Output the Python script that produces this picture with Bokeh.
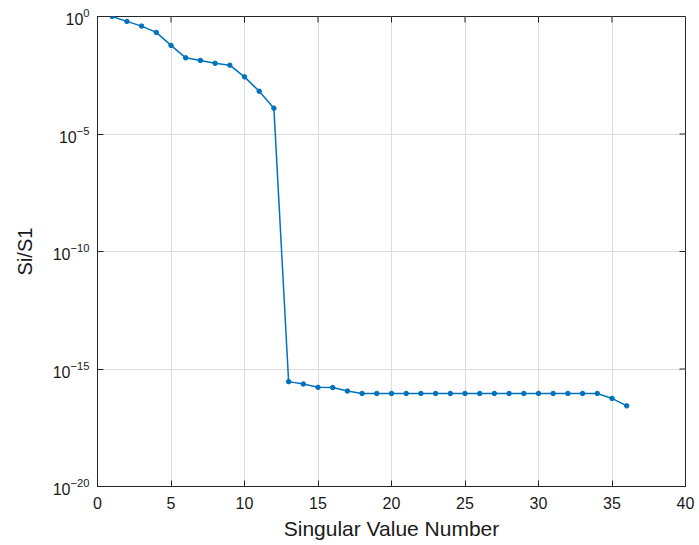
import math
from bokeh.plotting import figure
from bokeh.models import Range1d, FixedTicker, ColumnDataSource
from bokeh.embed import file_html
from bokeh.resources import INLINE

# Singular value index and normalized singular values Si/S1
index = list(range(1, 37))
ratio = [
    1.0, 0.62, 0.39, 0.21, 0.059, 0.0174, 0.0135, 0.0102, 0.0085, 0.0027,
    6.6e-4, 1.26e-4,
    2.9e-16, 2.3e-16, 1.66e-16, 1.62e-16, 1.15e-16,
    9.1e-17, 9.1e-17, 9.1e-17, 9.1e-17, 9.1e-17, 9.1e-17, 9.1e-17, 9.1e-17,
    9.1e-17, 9.1e-17, 9.1e-17, 9.1e-17, 9.1e-17, 9.1e-17, 9.1e-17, 9.1e-17,
    9.1e-17, 5.6e-17, 2.7e-17,
]
x_ticks = [0, 5, 10, 15, 20, 25, 30, 35, 40]
y_ticks = [1e-20, 1e-15, 1e-10, 1e-5, 1e0]

FONT = "Liberation Sans"
AX = "#262626"
X_MIN, X_MAX = 0, 40
Y_MIN, Y_MAX = 1e-20, 1e0

p = figure(width=699, height=545, y_axis_type="log",
           x_range=Range1d(X_MIN, X_MAX), y_range=Range1d(Y_MIN, Y_MAX),
           output_backend="svg", toolbar_location=None,
           min_border_left=97, min_border_right=14, min_border_top=16, min_border_bottom=59,
           x_axis_label="Singular Value Number", y_axis_label="Si/S1")
p.background_fill_color = "white"
p.border_fill_color = "white"
p.outline_line_color = AX
p.outline_line_width = 1

p.xgrid.ticker = FixedTicker(ticks=x_ticks)
p.ygrid.ticker = FixedTicker(ticks=y_ticks)
p.grid.grid_line_color = "#dcdcdc"
p.grid.grid_line_width = 1

src = ColumnDataSource(dict(x=index, y=ratio))
p.line("x", "y", source=src, line_color="#0072BD", line_width=1.5)
p.scatter("x", "y", source=src, size=4.5, fill_color="#0072BD", line_color="#0072BD")

# inward ticks on the top and right edges (box style)
p.ray(x=x_ticks, y=[Y_MAX] * len(x_ticks), length=6, length_units="screen",
      angle=-math.pi / 2, line_color=AX, line_width=1)
p.ray(x=[X_MAX] * len(y_ticks), y=y_ticks, length=6, length_units="screen",
      angle=math.pi, line_color=AX, line_width=1)

p.xaxis.ticker = FixedTicker(ticks=x_ticks)
p.yaxis.ticker = FixedTicker(ticks=y_ticks)

for ax in p.xaxis + p.yaxis:
    ax.major_tick_in = 6
    ax.major_tick_out = 0
    ax.minor_tick_in = 0
    ax.minor_tick_out = 0
    ax.axis_line_color = AX
    ax.major_tick_line_color = AX
    ax.major_label_text_font = FONT
    ax.major_label_text_font_size = "16px"
    ax.major_label_text_color = "#1a1a1a"
    ax.axis_label_text_font = FONT
    ax.axis_label_text_font_style = "normal"
    ax.axis_label_text_color = "#1a1a1a"
p.xaxis.axis_label_text_font_size = "21px"
p.yaxis.axis_label_text_font_size = "20px"
p.xaxis.major_label_standoff = 10
p.xaxis.axis_label_standoff = 5
p.yaxis.major_label_standoff = 8
p.yaxis.axis_label_standoff = 14

open("out.html", "w").write(file_html(p, INLINE))
